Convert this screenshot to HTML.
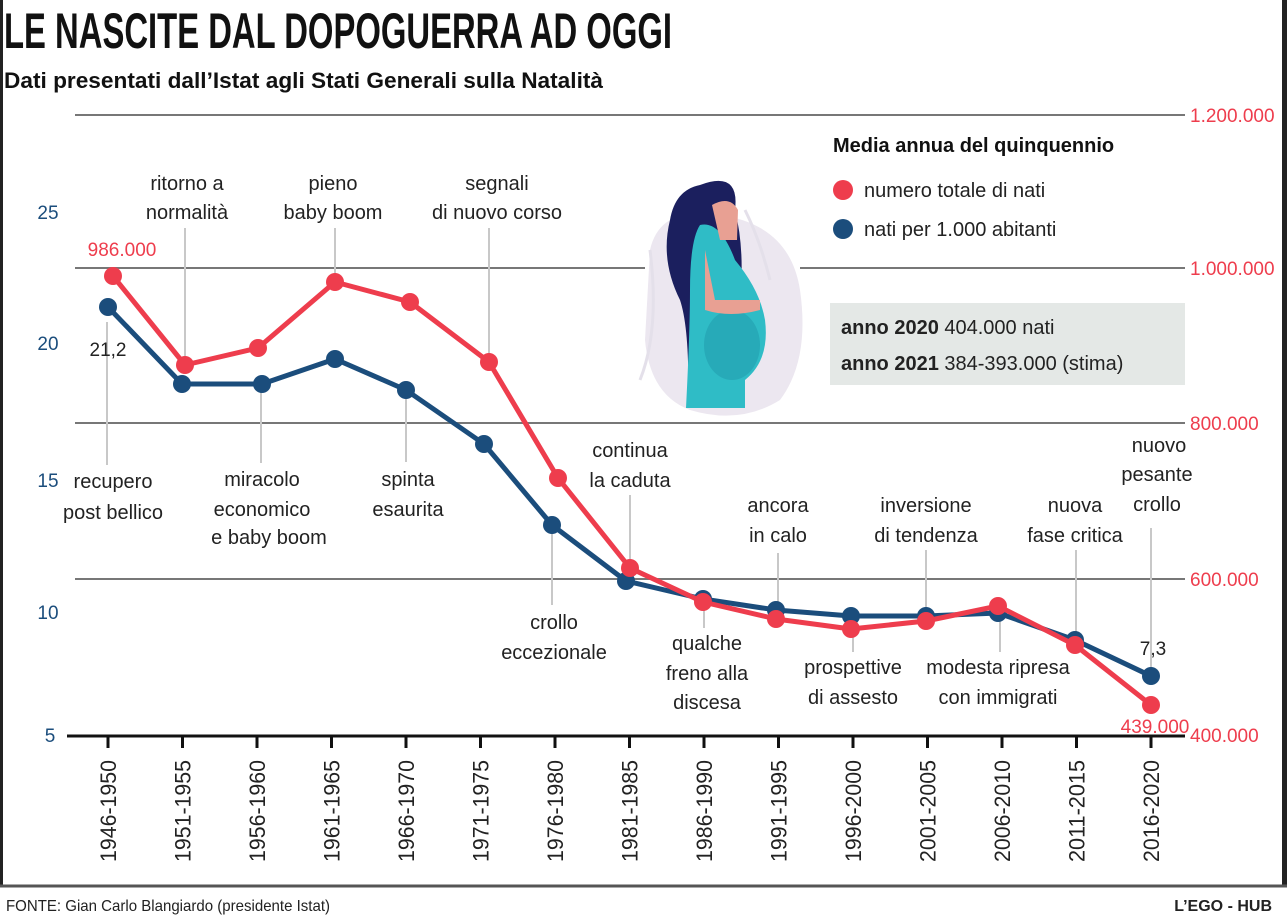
<!DOCTYPE html>
<html><head><meta charset="utf-8"><style>
html,body{margin:0;padding:0;background:#fff;}
svg{display:block;font-family:"Liberation Sans",sans-serif;}
</style></head><body>
<svg width="1287" height="915" viewBox="0 0 1287 915" xmlns="http://www.w3.org/2000/svg">
<rect width="1287" height="915" fill="#fff"/>
<rect x="0" y="0" width="3" height="887" fill="#222"/>
<rect x="1282" y="0" width="5" height="887" fill="#222"/>
<text x="4" y="48" font-size="50" font-weight="bold" fill="#111" textLength="668" lengthAdjust="spacingAndGlyphs">LE NASCITE DAL DOPOGUERRA AD OGGI</text>
<text x="4" y="88" font-size="22" font-weight="bold" fill="#111" textLength="599" lengthAdjust="spacingAndGlyphs">Dati presentati dall’Istat agli Stati Generali sulla Natalità</text>

<!-- illustration -->
<path d="M650 250 Q660 205 720 215 Q790 225 800 290 Q810 360 780 400 Q740 425 690 410 Q650 395 645 340 Z" fill="#ece7f0"/>
<g stroke="#e4e0ea" stroke-width="3" fill="none"><path d="M640 380 Q660 330 650 250"/><path d="M745 210 Q760 240 770 280"/></g>
<!-- grid -->
<g stroke="#777" stroke-width="2">
<line x1="75" y1="115" x2="1185" y2="115"/>
<line x1="75" y1="268" x2="645" y2="268"/><line x1="800" y1="268" x2="1185" y2="268"/>
<line x1="75" y1="423" x2="1185" y2="423"/>
<line x1="75" y1="579" x2="1185" y2="579"/>
</g>
<path d="M700 185 Q740 170 735 210 Q745 250 740 300 L745 408 L688 408 Q690 330 680 300 Q660 260 670 220 Q675 190 700 185 Z" fill="#1b1f5e"/>
<path d="M700 225 Q720 220 735 260 Q760 290 765 320 Q770 360 745 380 L745 408 L686 408 Q690 330 690 290 Q690 240 700 225 Z" fill="#2fbcc6"/>
<ellipse cx="732" cy="345" rx="28" ry="35" fill="#27aab8"/>
<path d="M712 205 Q730 195 738 210 L737 240 L720 240 Z" fill="#e8a093"/>
<path d="M705 250 L715 300 Q735 300 760 300 L760 310 Q730 318 705 310 Z" fill="#e8a093"/>

<!-- legend -->
<text x="833" y="152" font-size="20" font-weight="bold" fill="#111">Media annua del quinquennio</text>
<circle cx="843" cy="190" r="10" fill="#ee3d4d"/>
<text x="864" y="197" font-size="20" fill="#222">numero totale di nati</text>
<circle cx="843" cy="229" r="10" fill="#1b4d7c"/>
<text x="864" y="236" font-size="20" fill="#222">nati per 1.000 abitanti</text>
<rect x="830" y="303" width="355" height="82" fill="#e4e8e6"/>
<text x="841" y="334" font-size="20" fill="#222"><tspan font-weight="bold">anno 2020</tspan> 404.000 nati</text>
<text x="841" y="370" font-size="20" fill="#222"><tspan font-weight="bold">anno 2021</tspan> 384-393.000 (stima)</text>

<!-- right axis labels -->
<g font-size="19" fill="#ee3d4d">
<text x="1190" y="122">1.200.000</text>
<text x="1190" y="275">1.000.000</text>
<text x="1190" y="430">800.000</text>
<text x="1190" y="586">600.000</text>
<text x="1190" y="742">400.000</text>
</g>
<!-- left axis labels -->
<g font-size="19" fill="#1b4d7c" text-anchor="middle">
<text x="48" y="219">25</text>
<text x="48" y="350">20</text>
<text x="48" y="487">15</text>
<text x="48" y="619">10</text>
<text x="50" y="742">5</text>
</g>

<!-- leader lines -->
<g stroke="#c8c8c8" stroke-width="2">
<line x1="107" y1="322" x2="107" y2="465"/>
<line x1="185" y1="228" x2="185" y2="360"/>
<line x1="261" y1="390" x2="261" y2="463"/>
<line x1="335" y1="228" x2="335" y2="278"/>
<line x1="406" y1="395" x2="406" y2="462"/>
<line x1="489" y1="228" x2="489" y2="356"/>
<line x1="552" y1="530" x2="552" y2="605"/>
<line x1="630" y1="495" x2="630" y2="565"/>
<line x1="704" y1="605" x2="704" y2="628"/>
<line x1="778" y1="553" x2="778" y2="607"/>
<line x1="853" y1="630" x2="853" y2="652"/>
<line x1="926" y1="550" x2="926" y2="613"/>
<line x1="1000" y1="615" x2="1000" y2="652"/>
<line x1="1076" y1="550" x2="1076" y2="638"/>
<line x1="1151" y1="528" x2="1151" y2="668"/>
</g>

<!-- annotations -->
<g font-size="20" fill="#222" text-anchor="middle">
<text x="113" y="488">recupero</text><text x="113" y="519">post bellico</text>
<text x="187" y="190">ritorno a</text><text x="187" y="219">normalità</text>
<text x="262" y="486">miracolo</text><text x="262" y="516">economico</text><text x="269" y="544">e baby boom</text>
<text x="333" y="190">pieno</text><text x="333" y="219">baby boom</text>
<text x="408" y="486">spinta</text><text x="408" y="516">esaurita</text>
<text x="497" y="190">segnali</text><text x="497" y="219">di nuovo corso</text>
<text x="554" y="629">crollo</text><text x="554" y="659">eccezionale</text>
<text x="630" y="457">continua</text><text x="630" y="487">la caduta</text>
<text x="707" y="650">qualche</text><text x="707" y="680">freno alla</text><text x="707" y="709">discesa</text>
<text x="778" y="512">ancora</text><text x="778" y="542">in calo</text>
<text x="853" y="674">prospettive</text><text x="853" y="704">di assesto</text>
<text x="926" y="512">inversione</text><text x="926" y="542">di tendenza</text>
<text x="998" y="674">modesta ripresa</text><text x="998" y="704">con immigrati</text>
<text x="1075" y="512">nuova</text><text x="1075" y="542">fase critica</text>
<text x="1159" y="452">nuovo</text><text x="1157" y="481">pesante</text><text x="1157" y="511">crollo</text>
</g>

<!-- blue series -->
<polyline fill="none" stroke="#1b4d7c" stroke-width="5" stroke-linejoin="round" points="108,307 182,384 262,384 335,359 406,390 484,444 552,525 626,581 703,599 776,610 851,616 926,616 998,613 1075,640 1151,676"/>
<g fill="#1b4d7c"><circle cx="108" cy="307" r="9"/><circle cx="182" cy="384" r="9"/><circle cx="262" cy="384" r="9"/><circle cx="335" cy="359" r="9"/><circle cx="406" cy="390" r="9"/><circle cx="484" cy="444" r="9"/><circle cx="552" cy="525" r="9"/><circle cx="626" cy="581" r="9"/><circle cx="703" cy="599" r="9"/><circle cx="776" cy="610" r="9"/><circle cx="851" cy="616" r="9"/><circle cx="926" cy="616" r="9"/><circle cx="998" cy="613" r="9"/><circle cx="1075" cy="640" r="9"/><circle cx="1151" cy="676" r="9"/></g>
<!-- red series -->
<polyline fill="none" stroke="#ee3d4d" stroke-width="5" stroke-linejoin="round" points="113,276 185,365 258,348 335,282 410,302 489,362 558,478 630,568 703,602 776,619 851,629 926,621 998,606 1075,645 1151,705"/>
<g fill="#ee3d4d"><circle cx="113" cy="276" r="9"/><circle cx="185" cy="365" r="9"/><circle cx="258" cy="348" r="9"/><circle cx="335" cy="282" r="9"/><circle cx="410" cy="302" r="9"/><circle cx="489" cy="362" r="9"/><circle cx="558" cy="478" r="9"/><circle cx="630" cy="568" r="9"/><circle cx="703" cy="602" r="9"/><circle cx="776" cy="619" r="9"/><circle cx="851" cy="629" r="9"/><circle cx="926" cy="621" r="9"/><circle cx="998" cy="606" r="9"/><circle cx="1075" cy="645" r="9"/><circle cx="1151" cy="705" r="9"/></g>

<text x="122" y="256" font-size="19" fill="#ee3d4d" text-anchor="middle">986.000</text>
<text x="108" y="356" font-size="19" fill="#222" text-anchor="middle">21,2</text>
<text x="1153" y="655" font-size="19" fill="#222" text-anchor="middle">7,3</text>
<text x="1155" y="733" font-size="19" fill="#ee3d4d" text-anchor="middle">439.000</text>

<!-- x axis -->
<line x1="67" y1="736" x2="1185" y2="736" stroke="#111" stroke-width="3"/>
<g stroke="#111" stroke-width="3">
<line x1="108" y1="736" x2="108" y2="748"/><line x1="182.5" y1="736" x2="182.5" y2="748"/><line x1="257" y1="736" x2="257" y2="748"/><line x1="331.5" y1="736" x2="331.5" y2="748"/><line x1="406" y1="736" x2="406" y2="748"/><line x1="480.5" y1="736" x2="480.5" y2="748"/><line x1="555" y1="736" x2="555" y2="748"/><line x1="629.5" y1="736" x2="629.5" y2="748"/><line x1="704" y1="736" x2="704" y2="748"/><line x1="778.5" y1="736" x2="778.5" y2="748"/><line x1="853" y1="736" x2="853" y2="748"/><line x1="927.5" y1="736" x2="927.5" y2="748"/><line x1="1002" y1="736" x2="1002" y2="748"/><line x1="1076.5" y1="736" x2="1076.5" y2="748"/><line x1="1151" y1="736" x2="1151" y2="748"/>
</g>
<g font-size="22" fill="#222">
<text transform="translate(116,862) rotate(-90)" textLength="102" lengthAdjust="spacingAndGlyphs">1946-1950</text>
<text transform="translate(190.5,862) rotate(-90)" textLength="102" lengthAdjust="spacingAndGlyphs">1951-1955</text>
<text transform="translate(265,862) rotate(-90)" textLength="102" lengthAdjust="spacingAndGlyphs">1956-1960</text>
<text transform="translate(339.5,862) rotate(-90)" textLength="102" lengthAdjust="spacingAndGlyphs">1961-1965</text>
<text transform="translate(414,862) rotate(-90)" textLength="102" lengthAdjust="spacingAndGlyphs">1966-1970</text>
<text transform="translate(488.5,862) rotate(-90)" textLength="102" lengthAdjust="spacingAndGlyphs">1971-1975</text>
<text transform="translate(563,862) rotate(-90)" textLength="102" lengthAdjust="spacingAndGlyphs">1976-1980</text>
<text transform="translate(637.5,862) rotate(-90)" textLength="102" lengthAdjust="spacingAndGlyphs">1981-1985</text>
<text transform="translate(712,862) rotate(-90)" textLength="102" lengthAdjust="spacingAndGlyphs">1986-1990</text>
<text transform="translate(786.5,862) rotate(-90)" textLength="102" lengthAdjust="spacingAndGlyphs">1991-1995</text>
<text transform="translate(861,862) rotate(-90)" textLength="102" lengthAdjust="spacingAndGlyphs">1996-2000</text>
<text transform="translate(935.5,862) rotate(-90)" textLength="102" lengthAdjust="spacingAndGlyphs">2001-2005</text>
<text transform="translate(1010,862) rotate(-90)" textLength="102" lengthAdjust="spacingAndGlyphs">2006-2010</text>
<text transform="translate(1084.5,862) rotate(-90)" textLength="102" lengthAdjust="spacingAndGlyphs">2011-2015</text>
<text transform="translate(1159,862) rotate(-90)" textLength="102" lengthAdjust="spacingAndGlyphs">2016-2020</text>
</g>

<line x1="0" y1="886" x2="1287" y2="886" stroke="#555" stroke-width="3"/>
<text x="6" y="911" font-size="16" fill="#222" textLength="324" lengthAdjust="spacingAndGlyphs">FONTE: Gian Carlo Blangiardo (presidente Istat)</text>
<text x="1272" y="911" font-size="16" font-weight="bold" fill="#222" text-anchor="end">L’EGO - HUB</text>
</svg>
</body></html>
